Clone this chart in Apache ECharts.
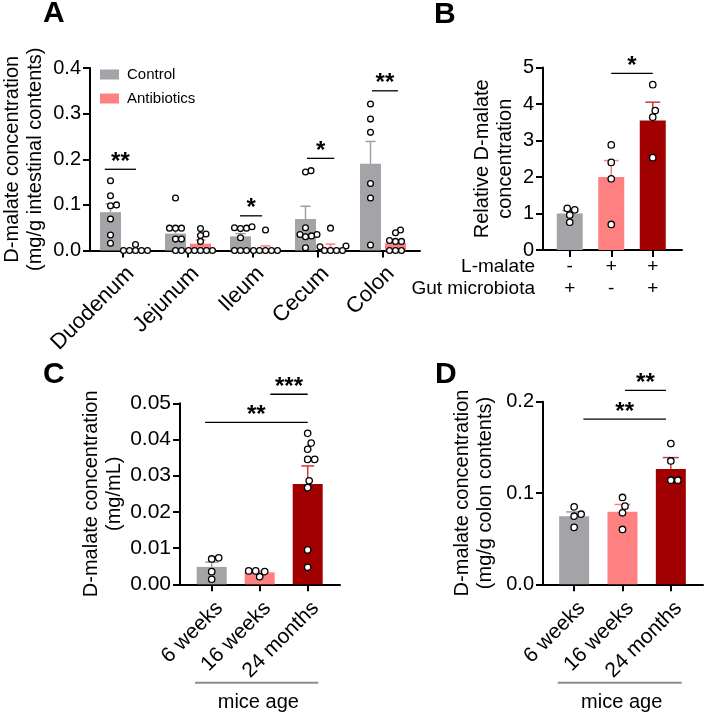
<!DOCTYPE html>
<html><head><meta charset="utf-8">
<script src="https://cdn.jsdelivr.net/npm/echarts@6/dist/echarts.min.js"></script>
<style>html,body{margin:0;padding:0;background:#fff}#c{width:705px;height:714px}</style>
</head><body><div id="c"></div>
<script>
// ================= DATA =================
// Panel A
const catsA = ['Duodenum', 'Jejunum', 'Ileum', 'Cecum', 'Colon'];
const ctrlMeanA = [0.084, 0.037, 0.031, 0.069, 0.190];
const ctrlSemA  = [0.018, 0.015, 0.006, 0.028, 0.049];
const abxMeanA  = [0.002, 0.015, 0.002, 0.006, 0.016];
const abxSemA   = [0.002, 0.008, 0.008, 0.008, 0.007];
const ctrlPtsA = [
  [0.153, 0.120, 0.100, 0.098, 0.069, 0.034, 0.016],
  [0.115, 0.049, 0.049, 0.049, 0.025, 0.025, 0, 0],
  [0.049, 0.050, 0.052, 0.048, 0.028, 0, 0, 0],
  [0.175, 0.172, 0.050, 0.035, 0.035, 0.032, 0.030, 0.006],
  [0.321, 0.288, 0.259, 0.147, 0.115, 0.012]
];
const abxPtsA = [
  [0.013, 0, 0, 0, 0, 0],
  [0.048, 0.036, 0.033, 0.020, 0, 0, 0, 0, 0],
  [0.045, 0, 0, 0, 0, 0],
  [0.049, 0.010, 0.008, 0, 0, 0, 0],
  [0.045, 0.039, 0.022, 0.020, 0.020, 0, 0, 0]
];
const sigFromA = [-0.28, 1.80, 2.83, 3.83];
const sigToA   = [0.20, 2.14, 3.25, 4.23];
const sigYA    = [0.178, 0.076, 0.202, 0.350];
const sigTextA = ['**', '*', '*', '**'];
const ticksA = [0, 0.1, 0.2, 0.3, 0.4];

// Panel B
const lmalateB    = ['-', '+', '+'];
const microbiotaB = ['+', '-', '+'];
const meanB = [1.00, 2.00, 3.55];
const semB  = [0.08, 0.45, 0.50];
const ptsB = [
  [1.14, 1.10, 0.96, 0.76],
  [2.88, 2.40, 1.95, 0.70],
  [4.53, 3.82, 3.64, 2.53]
];
const sigFromB = [1.0];
const sigToB   = [2.0];
const sigYB    = [4.84];
const sigTextB = ['*'];
const ticksB = [0, 1, 2, 3, 4, 5];

// Panel C
const catsC = ['6 weeks', '16 weeks', '24 months'];
const meanC = [0.0048, 0.0033, 0.0277];
const semC  = [0.0013, 0.0004, 0.0050];
const ptsC = [
  [0.0073, 0.0070, 0.0035, 0.0014],
  [0.0037, 0.0037, 0.0035, 0.0021],
  [0.0417, 0.0390, 0.0373, 0.0345, 0.0345, 0.0286, 0.0267, 0.0095, 0.0047]
];
const sigFromC = [-0.14, 1.22];
const sigToC   = [2.0, 2.0];
const sigYC    = [0.04475, 0.0525];
const sigTextC = ['**', '***'];
const ticksC = [0, 0.01, 0.02, 0.03, 0.04, 0.05];

// Panel D
const catsD = ['6 weeks', '16 weeks', '24 months'];
const meanD = [0.0746, 0.0794, 0.1264];
const semD  = [0.0047, 0.0080, 0.0124];
const ptsD = [
  [0.0848, 0.0768, 0.0746, 0.0623],
  [0.0951, 0.0856, 0.0783, 0.0601],
  [0.1541, 0.1351, 0.1140, 0.1140]
];
const sigFromD = [0.19, 1.05];
const sigToD   = [1.9, 1.9];
const sigYD    = [0.181, 0.2124];
const sigTextD = ['**', '**'];
const ticksD = [0, 0.1, 0.2];

// ================= STYLE =================
const FONT = '"Liberation Sans", Arial, Helvetica, sans-serif';
const GRAY = '#a3a3a8', PINK = '#ff8080', RED = '#a00000';
const GROUP_COLORS = [GRAY, PINK, RED];
const ERR_COLORS = ['#a0a0a4', '#ff8080', '#cc3a3a'];

const chart = echarts.init(document.getElementById('c'), null, {renderer: 'canvas'});

function swarm(ys, d) {
  const order = ys.map((y, k) => k).sort((a, b) => ys[b] - ys[a]);
  const placed = [];
  const xs = new Array(ys.length).fill(0);
  for (const k of order) {
    let best = 0;
    for (let s = 0; s < 400; s++) {
      const o = s === 0 ? 0 : (s % 2 === 1 ? 1 : -1) * Math.ceil(s / 2) * 0.5;
      if (placed.every(p => (p[0] - o) ** 2 + (p[1] - ys[k]) ** 2 >= d * d)) { best = o; break; }
    }
    xs[k] = best;
    placed.push([best, ys[k]]);
  }
  return xs;
}

function errSeries(g, means, sems, colors, dx, capHalf) {
  return {
    type: 'custom', xAxisIndex: g, yAxisIndex: g, clip: false, silent: true, z: 3,
    data: means.map((m, i) => [i, m, m + sems[i]]),
    renderItem(params, api) {
      const i = params.dataIndex;
      const p0 = api.coord([i, api.value(1)]);
      const p1 = api.coord([i, api.value(2)]);
      const x = p0[0] + dx;
      const c = colors[i % colors.length];
      return {type: 'group', children: [
        {type: 'line', shape: {x1: x, y1: p0[1], x2: x, y2: p1[1]}, style: {stroke: c, lineWidth: 1.5}},
        {type: 'line', shape: {x1: x - capHalf, y1: p1[1], x2: x + capHalf, y2: p1[1]}, style: {stroke: c, lineWidth: 1.5}}
      ]};
    }
  };
}

function dotSeries(g, pts, dx, d, r) {
  return {
    type: 'custom', xAxisIndex: g, yAxisIndex: g, clip: false, silent: true, z: 5,
    data: pts.map((arr, i) => [i, Math.max.apply(null, arr)]),
    renderItem(params, api) {
      const i = params.dataIndex;
      const x0 = api.coord([i, 0])[0] + dx;
      const ys = pts[i].map(v => api.coord([i, v])[1]);
      const xs = swarm(ys, d);
      return {type: 'group', children: ys.map((y, k) => ({
        type: 'circle', shape: {cx: x0 + xs[k], cy: y, r: r},
        style: {fill: '#fff', stroke: '#000', lineWidth: 1.3}
      }))};
    }
  };
}

function sigSeries(g, from, to, yv, texts) {
  return {
    type: 'custom', xAxisIndex: g, yAxisIndex: g, clip: false, silent: true, z: 6,
    data: yv.map(y => [0, y]),
    renderItem(params, api) {
      const i = params.dataIndex;
      const c0 = api.coord([0, 0])[0], c1 = api.coord([1, 0])[0];
      const step = c1 - c0;
      const fx = f => { const b = Math.round(f); return api.coord([b, 0])[0] + (f - b) * step; };
      const xa = fx(from[i]), xb = fx(to[i]);
      const y = api.coord([0, yv[i]])[1];
      return {type: 'group', children: [
        {type: 'line', shape: {x1: xa, y1: y, x2: xb, y2: y}, style: {stroke: '#000', lineWidth: 1.3}},
        {type: 'text', x: (xa + xb) / 2, y: y - 7, style: {
          text: texts[i], fontSize: 24, fontWeight: 'bold', fontFamily: FONT, fill: '#000',
          align: 'center', verticalAlign: 'middle', textAlign: 'center', textVerticalAlign: 'middle'}}
      ]};
    }
  };
}

// layout: [outerLeft, top, outerWidth, height, innerLeft, innerWidth]
const LAY = {
  A: [88, 68, 332, 182.5, 90.5, 325],
  B: [543, 67.5, 139, 182.5, 549, 124.5],
  C: [180, 403.3, 160, 181, 187.7, 144],
  D: [543, 401.7, 160, 182.6, 550, 145]
};

const grids = [], xAxes = [], yAxes = [];
function addPanel(key, ticks, fmt, name, nameGap, cats, xLabel, labelFont) {
  const L = LAY[key];
  const go = grids.length;
  grids.push({left: L[0], top: L[1], width: L[2], height: L[3]});
  grids.push({left: L[4], top: L[1], width: L[5], height: L[3]});
  const mn = ticks[0], mx = ticks[ticks.length - 1], iv = ticks[1] - ticks[0];
  xAxes.push({gridIndex: go, type: 'value', min: 0, max: 1,
    axisLine: {show: true, onZero: false, lineStyle: {color: '#000', width: 2}},
    axisTick: {show: false}, axisLabel: {show: false}, splitLine: {show: false}});
  yAxes.push({gridIndex: go, type: 'value', min: mn, max: mx, interval: iv,
    axisLine: {show: true, onZero: false, lineStyle: {color: '#000', width: 2}},
    axisTick: {show: true, length: 7, lineStyle: {color: '#000', width: 2}},
    axisLabel: {fontSize: labelFont, color: '#000', fontFamily: FONT, margin: 9, formatter: fmt},
    splitLine: {show: false},
    name: name, nameLocation: 'middle', nameGap: nameGap,
    nameTextStyle: {fontSize: 20, lineHeight: 23, color: '#000', fontFamily: FONT}});
  xAxes.push(Object.assign({gridIndex: go + 1, type: 'category', data: cats,
    axisLine: {show: false},
    axisTick: {show: true, alignWithLabel: true, length: 7, lineStyle: {color: '#000', width: 2}},
    splitLine: {show: false}}, {axisLabel: xLabel}));
  yAxes.push({gridIndex: go + 1, type: 'value', min: mn, max: mx, show: false});
  return go + 1;
}

function rot45(size, margin) {
  return {rotate: 45, fontSize: size, lineHeight: 22, color: '#000', fontFamily: FONT, margin: margin,
    interval: 0, align: 'right', verticalAlign: 'top'};
}

const gA = addPanel('A', ticksA, v => v.toFixed(1),
  'D-malate concentration\n(mg/g intestinal contents)', 43, catsA, rot45(22, 12), 20);
const gB = addPanel('B', ticksB, v => String(v),
  'Relative D-malate\nconcentration', 26,
  lmalateB.map((l, i) => l + '\n' + microbiotaB[i]),
  {fontSize: 19, lineHeight: 22, color: '#000', fontFamily: FONT, margin: 6, interval: 0}, 20);
const gC = addPanel('C', ticksC, v => v.toFixed(2),
  'D-malate concentration\n(mg/mL)', 54, catsC, rot45(21, 13), 21);
const gD = addPanel('D', ticksD, v => v.toFixed(1),
  'D-malate concentration\n(mg/g colon contents)', 46, catsD, rot45(21, 13), 20);

const series = [];
// Panel A bars
series.push({name: 'Control', type: 'bar', xAxisIndex: gA, yAxisIndex: gA, barWidth: 21, barGap: '19%',
  itemStyle: {color: GRAY}, data: ctrlMeanA, z: 2});
series.push({name: 'Antibiotics', type: 'bar', xAxisIndex: gA, yAxisIndex: gA, barWidth: 21, barGap: '19%',
  itemStyle: {color: PINK}, data: abxMeanA, z: 2});
series.push(errSeries(gA, ctrlMeanA, ctrlSemA, [ERR_COLORS[0]], -12.5, 5));
series.push(errSeries(gA, abxMeanA, abxSemA, [ERR_COLORS[1]], 12.5, 5));
series.push(dotSeries(gA, ctrlPtsA, -12.5, 5.6, 2.9));
series.push(dotSeries(gA, abxPtsA, 12.5, 5.6, 2.9));
series.push(sigSeries(gA, sigFromA, sigToA, sigYA, sigTextA));

// Panels B, C, D
function groupPanel(g, means, sems, pts, from, to, ys, texts, bw, capHalf) {
  series.push({type: 'bar', xAxisIndex: g, yAxisIndex: g, barWidth: bw, z: 2,
    data: means.map((m, i) => ({value: m, itemStyle: {color: GROUP_COLORS[i]}}))});
  series.push(errSeries(g, means, sems, ERR_COLORS, 0, capHalf));
  series.push(dotSeries(g, pts, 0, 7, 3.2));
  series.push(sigSeries(g, from, to, ys, texts));
}
groupPanel(gB, meanB, semB, ptsB, sigFromB, sigToB, sigYB, sigTextB, 26, 7.5);
groupPanel(gC, meanC, semC, ptsC, sigFromC, sigToC, sigYC, sigTextC, 30, 6.5);
groupPanel(gD, meanD, semD, ptsD, sigFromD, sigToD, sigYD, sigTextD, 30, 8);

function txt(x, y, s, size, weight, align) {
  return {type: 'text', x: x, y: y, style: {text: s, fontSize: size, fontWeight: weight || 'normal',
    fontFamily: FONT, fill: '#000', textAlign: align || 'left', textVerticalAlign: 'middle',
    align: align || 'left', verticalAlign: 'middle'}};
}
const graphics = [
  txt(43, 14, 'A', 30, 'bold'),
  txt(434, 15, 'B', 30, 'bold'),
  txt(43, 374.5, 'C', 30, 'bold'),
  txt(435, 375, 'D', 30, 'bold'),
  txt(535, 266.5, 'L-malate', 19, 'normal', 'right'),
  txt(535, 289, 'Gut microbiota', 19, 'normal', 'right'),
  {type: 'line', shape: {x1: 195, y1: 682.7, x2: 318.3, y2: 682.7}, style: {stroke: '#8c8c8c', lineWidth: 2}},
  {type: 'line', shape: {x1: 557.7, y1: 682.7, x2: 681.7, y2: 682.7}, style: {stroke: '#8c8c8c', lineWidth: 2}},
  txt(258.3, 702, 'mice age', 20, 'normal', 'center'),
  txt(621.7, 702, 'mice age', 20, 'normal', 'center')
];

chart.setOption({
  animation: false,
  backgroundColor: '#fff',
  textStyle: {fontFamily: FONT},
  grid: grids, xAxis: xAxes, yAxis: yAxes, series: series,
  legend: {data: ['Control', 'Antibiotics'], orient: 'vertical', left: 100, top: 67, padding: 0,
    itemWidth: 19, itemHeight: 10, itemGap: 9, icon: 'rect', selectedMode: false,
    textStyle: {fontSize: 15, color: '#000', fontFamily: FONT, padding: [0, 0, 0, 3]}},
  graphic: graphics
});
</script>
</body></html>
